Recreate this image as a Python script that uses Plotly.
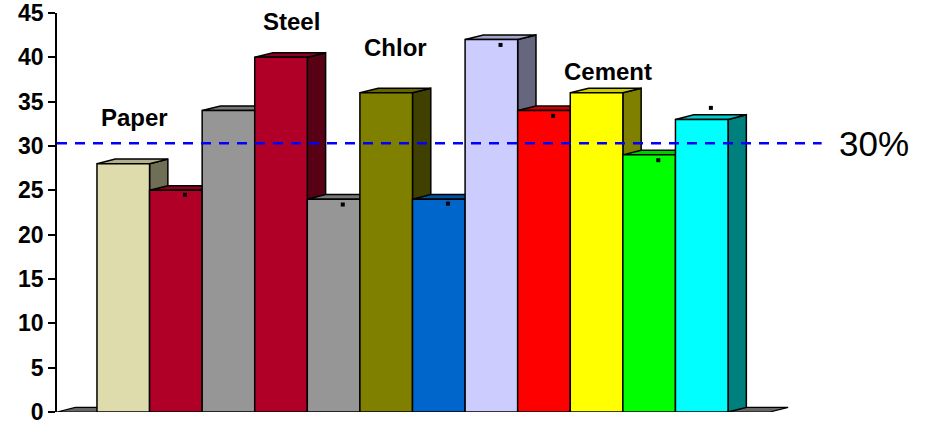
import plotly.graph_objects as go

# ---- data ----
categories = ["c1", "c2", "c3", "c4", "c5", "c6", "c7", "c8", "c9", "c10", "c11", "c12"]
bar_values = [28, 25, 34, 40, 24, 36, 24, 42, 34, 36, 29, 33]
marker_values = [None, 24.5, None, None, 23.4, None, 23.5, 41.4, 33.4, None, 28.4, 34.3]
bar_colors = ["#DEDCAC", "#B00028", "#969696", "#B00028", "#969696", "#808000",
              "#0066CC", "#CCCCFF", "#FF0000", "#FFFF00", "#00FF00", "#00FFFF"]
reference_level = 30.3
reference_text = "30%"
group_labels = ["Paper", "Steel", "Chlor", "Cement"]
y_ticks = [0, 5, 10, 15, 20, 25, 30, 35, 40, 45]

# ---- geometry of the pseudo-3D view (data units) ----
X_MIN, X_MAX = -1.26, 14.77
FLOOR_END = 12.295
DX, DY = 0.348, 0.52          # depth offset of back faces
LINE_END = 13.28
FONT = "Liberation Sans, Arial, sans-serif"
EDGE = dict(color="black", width=1.5)


def shade(hex_color, f):
    h = hex_color.lstrip("#")
    r, g, b = (int(h[i:i + 2], 16) for i in (0, 2, 4))
    return "#%02X%02X%02X" % (int(r * f), int(g * f), int(b * f))


def poly(xs, ys, color):
    return go.Scatter(x=xs + [xs[0]], y=ys + [ys[0]], mode="lines", fill="toself",
                      fillcolor=color, line=EDGE, cliponaxis=False,
                      hoverinfo="skip", showlegend=False)


fig = go.Figure()

# floor
fig.add_trace(go.Scatter(
    x=[X_MIN, FLOOR_END, FLOOR_END + DX, X_MIN + DX, X_MIN],
    y=[0, 0, DY, DY, 0], mode="lines", fill="toself", fillcolor="#666666",
    line=dict(color="black", width=1.2), cliponaxis=False,
    hoverinfo="skip", showlegend=False))

# bars: side, top, then front, left to right so nearer faces cover farther ones
for i, (h, c) in enumerate(zip(bar_values, bar_colors)):
    l, r = i - 0.5, i + 0.5
    fig.add_trace(poly([r, r + DX, r + DX, r], [0, DY, h + DY, h], shade(c, 0.5)))
    fig.add_trace(poly([l, r, r + DX, l + DX], [h, h, h + DY, h + DY], shade(c, 0.8)))
    fig.add_trace(poly([l, r, r, l], [0, 0, h, h], c))

# small point markers
mx = [i + DX / 2 for i, v in enumerate(marker_values) if v is not None]
my = [v for v in marker_values if v is not None]
fig.add_trace(go.Scatter(x=mx, y=my, mode="markers",
                         marker=dict(symbol="square", size=4, color="black"),
                         cliponaxis=False, hoverinfo="skip", showlegend=False))

# dashed reference line
fig.add_trace(go.Scatter(x=[X_MIN, LINE_END], y=[reference_level, reference_level],
                         mode="lines", line=dict(color="#0000FF", width=2.5, dash="10px,8px"),
                         cliponaxis=False, hoverinfo="skip", showlegend=False))

annotations = [dict(x=14.27, y=reference_level, xref="x", yref="y", text=reference_text,
                    showarrow=False, font=dict(family=FONT, size=35, color="black"),
                    xanchor="center", yanchor="middle")]

label_pos = {"Paper": (0.22, 33.2), "Steel": (3.19, 44.06),
             "Chlor": (5.17, 41.1), "Cement": (9.21, 38.4)}
for name in group_labels:
    lx, ly = label_pos[name]
    annotations.append(dict(x=lx, y=ly, xref="x", yref="y", text="<b>%s</b>" % name,
                            showarrow=False, font=dict(family=FONT, size=24, color="black"),
                            xanchor="center", yanchor="middle"))

# chart title (sits mostly above the top edge of the page)
annotations.append(dict(x=(343 - 57) / 843.0, y=1.072, xref="x domain", yref="paper",
                        text="<b>Energy</b>", showarrow=False,
                        xanchor="right", yanchor="middle",
                        font=dict(family=FONT, size=24, color="black")))

fig.update_layout(
    width=930, height=426,
    margin=dict(l=57, r=30, t=13, b=14, autoexpand=False),
    paper_bgcolor="white", plot_bgcolor="white",
    showlegend=False,
    annotations=annotations,
    xaxis=dict(range=[X_MIN, X_MAX], visible=False, fixedrange=True, automargin=False),
    yaxis=dict(range=[0, 45], tickvals=y_ticks,
               ticktext=["<b>%d</b>" % t for t in y_ticks],
               showline=True, linecolor="black", linewidth=1.5,
               ticks="outside", ticklen=7, tickwidth=1.5, tickcolor="black",
               tickfont=dict(family=FONT, size=23, color="black"),
               showgrid=False, zeroline=False, fixedrange=True, automargin=False),
)

fig.write_html("out.html")
